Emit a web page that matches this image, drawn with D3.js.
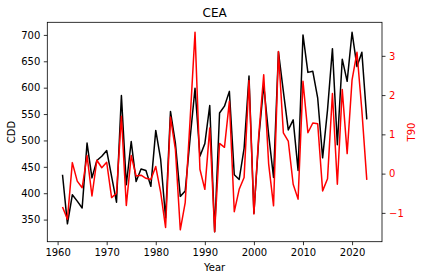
<!DOCTYPE html>
<html>
<head>
<meta charset="utf-8">
<script src="https://cdn.jsdelivr.net/npm/d3@7"></script>
<style>
  body { margin: 0; background: #fff; }
  svg { display: block; font-family: "DejaVu Sans", sans-serif; }
</style>
</head>
<body>
<svg id="chart" width="424" height="280"></svg>
<script>
const years = [
  1961, 1962, 1963, 1964, 1965, 1966, 1967, 1968, 1969, 1970,
  1971, 1972, 1973, 1974, 1975, 1976, 1977, 1978, 1979, 1980,
  1981, 1982, 1983, 1984, 1985, 1986, 1987, 1988, 1989, 1990,
  1991, 1992, 1993, 1994, 1995, 1996, 1997, 1998, 1999, 2000,
  2001, 2002, 2003, 2004, 2005, 2006, 2007, 2008, 2009, 2010,
  2011, 2012, 2013, 2014, 2015, 2016, 2017, 2018, 2019, 2020,
  2021, 2022, 2023
];

const cdd = [
  435, 342, 397, 385, 372, 495, 429, 462, 470, 481,
  432, 383, 585, 416, 498, 422, 446, 443, 413, 519,
  464, 353, 555, 495, 394, 404, 504, 599, 470, 494,
  566, 327, 552, 565, 593, 435, 426, 485, 622, 362,
  505, 605, 511, 430, 668, 593, 520, 539, 443, 700,
  629, 631, 580, 467, 558, 674, 492, 654, 612, 705,
  640, 667, 540
];

const t90 = [
  -0.85, -1.16, 0.28, -0.19, -0.36, 0.46, -0.57, 0.34, 0.15, 0.29,
  -0.61, -0.5, 1.46, -0.81, 0.46, -0.06, -0.04, -0.12, -0.15, 0.18,
  -0.48, -1.37, 1.44, 0.62, -1.43, -0.74, 1.38, 3.6, 0.11, -0.4,
  1.16, -1.48, 0.77, 0.67, 1.84, -0.97, -0.4, -0.1, 2.37, -1.03,
  1.0, 2.52, 0.25, -0.82, 3.11, 1.04, 0.83, -0.27, -0.65, 2.35,
  1.04, 1.29, 1.27, -0.44, -0.13, 2.04, -0.27, 2.14, 0.51, 2.39,
  3.09, 1.6, -0.16
];

const xTicks = [1960, 1970, 1980, 1990, 2000, 2010, 2020];
const leftTicks = [350, 400, 450, 500, 550, 600, 650, 700];
const rightTicks = [-1, 0, 1, 2, 3];

const width = 424, height = 280;
const margin = { top: 22.3, right: 42, bottom: 38.3, left: 47.3 };

const svg = d3.select("#chart");

// matplotlib-style 5% padding
const pad = (ext) => {
  const d = (ext[1] - ext[0]) * 0.05;
  return [ext[0] - d, ext[1] + d];
};

const x = d3.scaleLinear()
  .domain(pad(d3.extent(years)))
  .range([margin.left, width - margin.right]);

const yL = d3.scaleLinear()
  .domain(pad(d3.extent(cdd)))
  .range([height - margin.bottom, margin.top]);

const yR = d3.scaleLinear()
  .domain(pad(d3.extent(t90)))
  .range([height - margin.bottom, margin.top]);

const fmt = d3.format("d");

// lines
const lineL = d3.line().x((d, i) => x(years[i])).y((d) => yL(d));
const lineR = d3.line().x((d, i) => x(years[i])).y((d) => yR(d));

svg.append("path")
  .datum(cdd)
  .attr("d", lineL)
  .attr("fill", "none")
  .attr("stroke", "#000")
  .attr("stroke-width", 1.5)
  .attr("stroke-linejoin", "round");

svg.append("path")
  .datum(t90)
  .attr("d", lineR)
  .attr("fill", "none")
  .attr("stroke", "#ff0000")
  .attr("stroke-width", 1.5)
  .attr("stroke-linejoin", "round");

// axes
const styleAxis = (g, color) => {
  g.select(".domain").remove();
  g.selectAll(".tick line").attr("stroke", "#000").attr("stroke-width", 0.8);
  g.selectAll(".tick text")
    .attr("fill", color)
    .style("font-size", "10px")
    .style("font-family", "DejaVu Sans");
};

svg.append("g")
  .attr("transform", `translate(0,${height - margin.bottom})`)
  .call(d3.axisBottom(x).tickValues(xTicks).tickFormat(fmt).tickSize(3.5).tickPadding(3.5))
  .call((g) => styleAxis(g, "#000"));

svg.append("g")
  .attr("transform", `translate(${margin.left},0)`)
  .call(d3.axisLeft(yL).tickValues(leftTicks).tickFormat(fmt).tickSize(3.5).tickPadding(3.5))
  .call((g) => styleAxis(g, "#000"));

svg.append("g")
  .attr("transform", `translate(${width - margin.right},0)`)
  .call(d3.axisRight(yR).tickValues(rightTicks).tickFormat(d3.format("d")).tickSize(3.5).tickPadding(3.5))
  .call((g) => styleAxis(g, "#ff0000"));

// frame
svg.append("rect")
  .attr("x", margin.left)
  .attr("y", margin.top)
  .attr("width", width - margin.left - margin.right)
  .attr("height", height - margin.top - margin.bottom)
  .attr("fill", "none")
  .attr("stroke", "#000")
  .attr("stroke-width", 0.8);

// labels
const plotMidX = (margin.left + width - margin.right) / 2;
const plotMidY = (margin.top + height - margin.bottom) / 2;

svg.append("text")
  .attr("x", plotMidX)
  .attr("y", 17)
  .attr("text-anchor", "middle")
  .style("font-size", "12px")
  .text("CEA");

svg.append("text")
  .attr("x", plotMidX)
  .attr("y", 271)
  .attr("text-anchor", "middle")
  .style("font-size", "10px")
  .text("Year");

svg.append("text")
  .attr("transform", `translate(15,${plotMidY}) rotate(-90)`)
  .attr("text-anchor", "middle")
  .style("font-size", "10px")
  .text("CDD");

svg.append("text")
  .attr("transform", `translate(414.5,${plotMidY}) rotate(-90)`)
  .attr("text-anchor", "middle")
  .attr("fill", "#ff0000")
  .style("font-size", "10px")
  .text("T90");
</script>
</body>
</html>
